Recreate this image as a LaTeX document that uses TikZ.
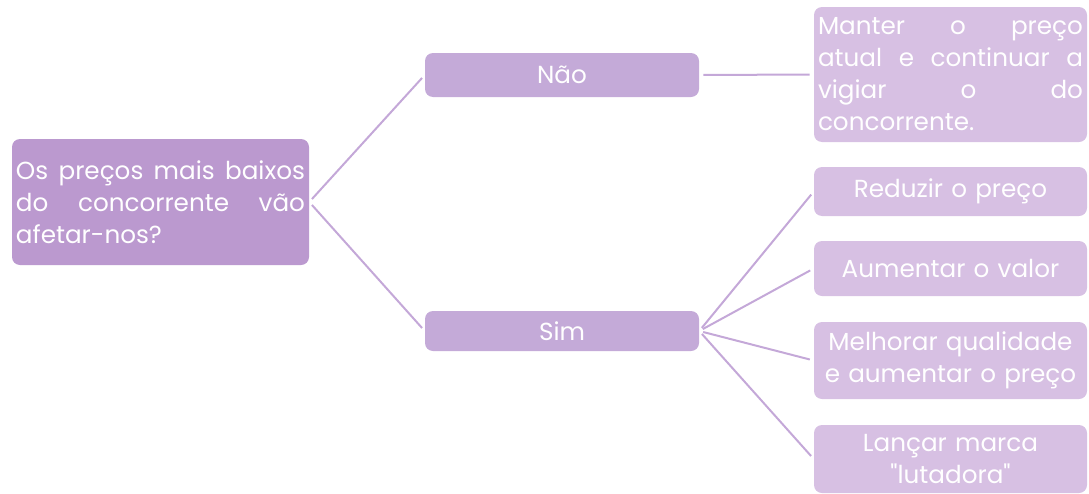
\documentclass[tikz,border=0pt]{standalone}
\usepackage{fontspec}
\setmainfont{Poppins}[Ligatures=TeXOff]
\definecolor{RootPurple}{RGB}{187,153,207}
\definecolor{MidPurple}{RGB}{196,170,216}
\definecolor{LightPurple}{RGB}{215,192,227}
\definecolor{LinePurple}{RGB}{196,168,216}
\tikzset{
  box/.style={rounded corners=6pt, text=white, inner sep=3pt,
    font=\fontsize{18.5}{24}\selectfont},
  rootbox/.style={box, fill=RootPurple, minimum width=222.75pt,
    minimum height=94.5pt, text width=216.75pt, align=justify},
  answer/.style={box, fill=MidPurple, minimum width=205.5pt, align=center},
  action/.style={box, fill=LightPurple, minimum width=204.75pt,
    text width=198.75pt, align=center},
  link/.style={draw=LinePurple, line width=1.5pt, shorten <=3pt, shorten >=3pt}
}
\begin{document}
\begin{tikzpicture}[x=0.75pt,y=-0.75pt]
          \useasboundingbox (0,0) rectangle (1089,493);
          % question
          \node[rootbox] (question) at (160.5,202)
            {Os preços mais baixos\linebreak do concorrente vão\linebreak afetar-nos?};
          % answers
          \node[answer, minimum height=33pt] (nao) at (562,75) {Não};
          \node[answer, minimum height=30pt] (sim) at (562,331) {Sim};
          % actions
          \node[action, minimum height=101.25pt, align=justify] (manter) at (950.5,74.5)
            {Manter o preço\linebreak atual e continuar a\linebreak vigiar o do\linebreak concorrente.};
          \node[action, minimum height=36.75pt] (reduzir) at (950.5,191.5) {Reduzir o preço};
          \node[action, minimum height=41.25pt] (aumentar) at (950.5,268.5) {Aumentar o valor};
          \node[action, minimum height=57.75pt] (melhorar) at (950.5,360.5)
            {Melhorar qualidade\\e aumentar o preço};
          \node[action, minimum height=51pt] (lancar) at (950.5,459)
            {Lançar marca\\"lutadora"};
          % links
          \draw[link] (question.east) -- (nao.west);
          \draw[link] (question.east) -- (sim.west);
          \draw[link] (nao.east) -- (manter.west);
          \draw[link] (sim.east) -- (reduzir.west);
          \draw[link] (sim.east) -- (aumentar.west);
          \draw[link] (sim.east) -- (melhorar.west);
          \draw[link] (sim.east) -- (lancar.west);
\end{tikzpicture}
\end{document}
